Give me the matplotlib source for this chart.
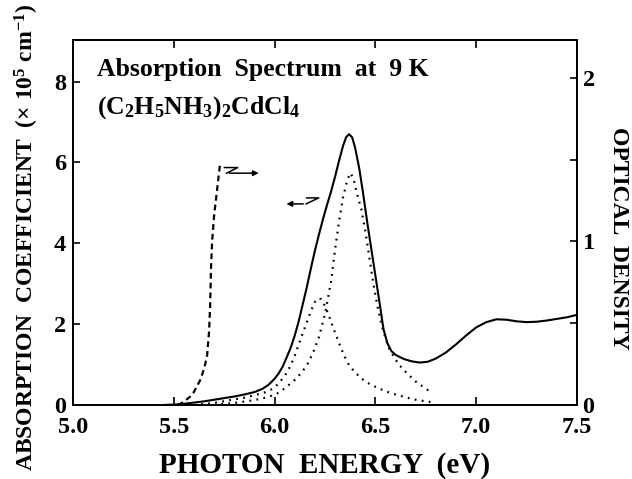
import matplotlib
matplotlib.use("Agg")
import matplotlib.pyplot as plt

plt.rcParams["font.family"] = ["Liberation Serif", "DejaVu Serif"]
plt.rcParams["font.weight"] = "bold"
plt.rcParams["mathtext.fontset"] = "custom"
plt.rcParams["mathtext.rm"] = "Liberation Serif:bold"
plt.rcParams["mathtext.it"] = "Liberation Serif:bold"
plt.rcParams["mathtext.bf"] = "Liberation Serif:bold"

# Measured absorption coefficient (x 10^5 cm^-1)
energy_abs = [5.45, 5.50, 5.55, 5.60, 5.65, 5.70, 5.75, 5.80, 5.85, 5.90,
              5.94, 5.97, 6.00, 6.02, 6.04, 6.06, 6.08, 6.10, 6.12, 6.14,
              6.16, 6.18, 6.20, 6.22, 6.24, 6.26, 6.28, 6.30, 6.32, 6.34,
              6.355, 6.37, 6.385, 6.40, 6.42, 6.44, 6.46, 6.48, 6.50, 6.52,
              6.54, 6.56, 6.58, 6.60, 6.64, 6.68, 6.72, 6.76, 6.80, 6.85,
              6.90, 6.95, 7.00, 7.05, 7.10, 7.15, 7.20, 7.25, 7.30, 7.35,
              7.40, 7.45, 7.50]
alpha = [0.00, 0.01, 0.03, 0.06, 0.09, 0.13, 0.17, 0.21, 0.26, 0.32,
         0.40, 0.50, 0.65, 0.78, 0.95, 1.18, 1.42, 1.72, 2.08, 2.50,
         2.92, 3.38, 3.82, 4.22, 4.60, 4.95, 5.28, 5.65, 6.05, 6.42,
         6.63, 6.70, 6.62, 6.35, 5.85, 5.20, 4.50, 3.85, 3.20, 2.55,
         1.88, 1.52, 1.33, 1.24, 1.14, 1.08, 1.05, 1.07, 1.15, 1.30,
         1.50, 1.72, 1.92, 2.05, 2.12, 2.11, 2.07, 2.05, 2.06, 2.09,
         2.13, 2.17, 2.23]

# Decomposition into two exciton bands (x 10^5 cm^-1)
energy_band1 = [5.60, 5.70, 5.78, 5.85, 5.90, 5.95, 5.99, 6.02, 6.05, 6.08,
                6.10, 6.12, 6.14, 6.16, 6.18, 6.20, 6.215, 6.23, 6.25, 6.27,
                6.29, 6.31, 6.33, 6.35, 6.37, 6.40, 6.43, 6.46, 6.50, 6.55,
                6.60, 6.65, 6.70, 6.75, 6.78]
band1 = [0.00, 0.05, 0.12, 0.18, 0.24, 0.31, 0.40, 0.53, 0.72, 0.98,
         1.22, 1.50, 1.78, 2.05, 2.32, 2.55, 2.64, 2.62, 2.45, 2.20,
         1.92, 1.66, 1.40, 1.17, 0.98, 0.80, 0.66, 0.55, 0.45, 0.34,
         0.26, 0.19, 0.13, 0.09, 0.07]

energy_band2 = [5.70, 5.80, 5.90, 5.97, 6.02, 6.06, 6.10, 6.13, 6.16, 6.19,
                6.22, 6.25, 6.28, 6.30, 6.32, 6.34, 6.36, 6.375, 6.39, 6.41,
                6.43, 6.45, 6.47, 6.49, 6.51, 6.53, 6.55, 6.57, 6.60, 6.63,
                6.66, 6.70, 6.74, 6.78]
band2 = [0.00, 0.05, 0.12, 0.20, 0.30, 0.45, 0.62, 0.78, 0.98, 1.28,
         1.68, 2.25, 3.05, 3.85, 4.55, 5.15, 5.55, 5.74, 5.62, 5.20,
         4.85, 4.30, 3.65, 3.00, 2.45, 2.00, 1.65, 1.38, 1.12, 0.92,
         0.77, 0.58, 0.44, 0.30]

# Optical density of the thin crystal (absorption edge)
energy_od = [5.52, 5.55, 5.58, 5.60, 5.63, 5.65, 5.665, 5.675, 5.68, 5.685,
             5.69, 5.70, 5.715, 5.73]
optical_density = [0.0, 0.02, 0.05, 0.08, 0.15, 0.22, 0.30, 0.45, 0.60, 0.85,
                   1.00, 1.16, 1.32, 1.48]

x_ticks = [5.0, 5.5, 6.0, 6.5, 7.0, 7.5]
x_tick_labels = ["5.0", "5.5", "6.0", "6.5", "7.0", "7.5"]
left_ticks = [0, 2, 4, 6, 8]
right_ticks = [0, 1, 2]
right_minor = [0.5, 1.5]

fig = plt.figure(figsize=(6.32, 4.79), dpi=100)
ax = fig.add_axes([0.1155, 0.1545, 0.7975, 0.762])
ax2 = ax.twinx()

ax.plot(energy_abs, alpha, color="black", lw=1.5)
ax.plot(energy_band1, band1, color="black", lw=1.6, linestyle=(0, (0.8, 2.4)))
ax.plot(energy_band2, band2, color="black", lw=1.6, linestyle=(0, (0.8, 2.4)))
ax2.plot(energy_od, optical_density, color="black", lw=1.6, linestyle=(0, (2.6, 1.8)))

ax.set_xlim(5.0, 7.5)
ax.set_ylim(0, 9.03)
ax2.set_ylim(0, 2.232)

ax.set_xticks(x_ticks)
ax.set_xticklabels(x_tick_labels)
ax.set_yticks(left_ticks)
ax2.set_yticks(right_ticks)
ax2.set_yticks(right_minor, minor=True)

for a in (ax, ax2):
    for s in a.spines.values():
        s.set_linewidth(1.4)
ax.tick_params(axis="x", direction="in", length=6, width=1.2, top=True,
               labelsize=17.5, pad=9)
ax.tick_params(axis="y", direction="in", length=5, width=1.2, labelsize=17.5, pad=5)
ax2.tick_params(axis="y", which="both", direction="in", length=5, width=1.2,
                labelsize=17.5, pad=4)

ax.set_xlabel("PHOTON  ENERGY  (eV)", fontsize=21, fontweight="bold",
              va="center", ha="center")
ax.xaxis.set_label_coords(0.5, -0.167)
ax.set_ylabel(r"ABSORPTION  COEFFICIENT  ($\times$ 10$^{5}$ cm$^{-1}$)",
              fontsize=17, fontweight="bold", va="center", ha="center")
ax.yaxis.set_label_coords(-0.091, 0.459)
ax2.set_ylabel("OPTICAL  DENSITY", fontsize=17, fontweight="bold",
               rotation=270, va="center", ha="center")
ax2.yaxis.set_label_coords(1.083, 0.456)

ax.text(0.048, 0.918, "Absorption  Spectrum  at  9 K", transform=ax.transAxes,
        fontsize=18.5, fontweight="bold", va="center", ha="left")
ax.text(0.048, 0.815, r"(C$_2$H$_5$NH$_3$)$_2$CdCl$_4$", transform=ax.transAxes,
        fontsize=18.5, fontweight="bold", va="center", ha="left")

# Arrows marking which axis each curve belongs to
arrow_kw = dict(arrowstyle="-|>", color="black", lw=1.1, mutation_scale=8)
ax.plot([5.751, 5.817, 5.762], [5.874, 5.874, 5.735], color="black", lw=1.1)
ax.annotate("", xy=(5.935, 5.735), xytext=(5.762, 5.735), arrowprops=arrow_kw)
ax.plot([6.159, 6.219, 6.156], [5.124, 5.124, 4.975], color="black", lw=1.1)
ax.annotate("", xy=(6.045, 4.975), xytext=(6.156, 4.975), arrowprops=arrow_kw)

fig.savefig("out.png", dpi=100)
